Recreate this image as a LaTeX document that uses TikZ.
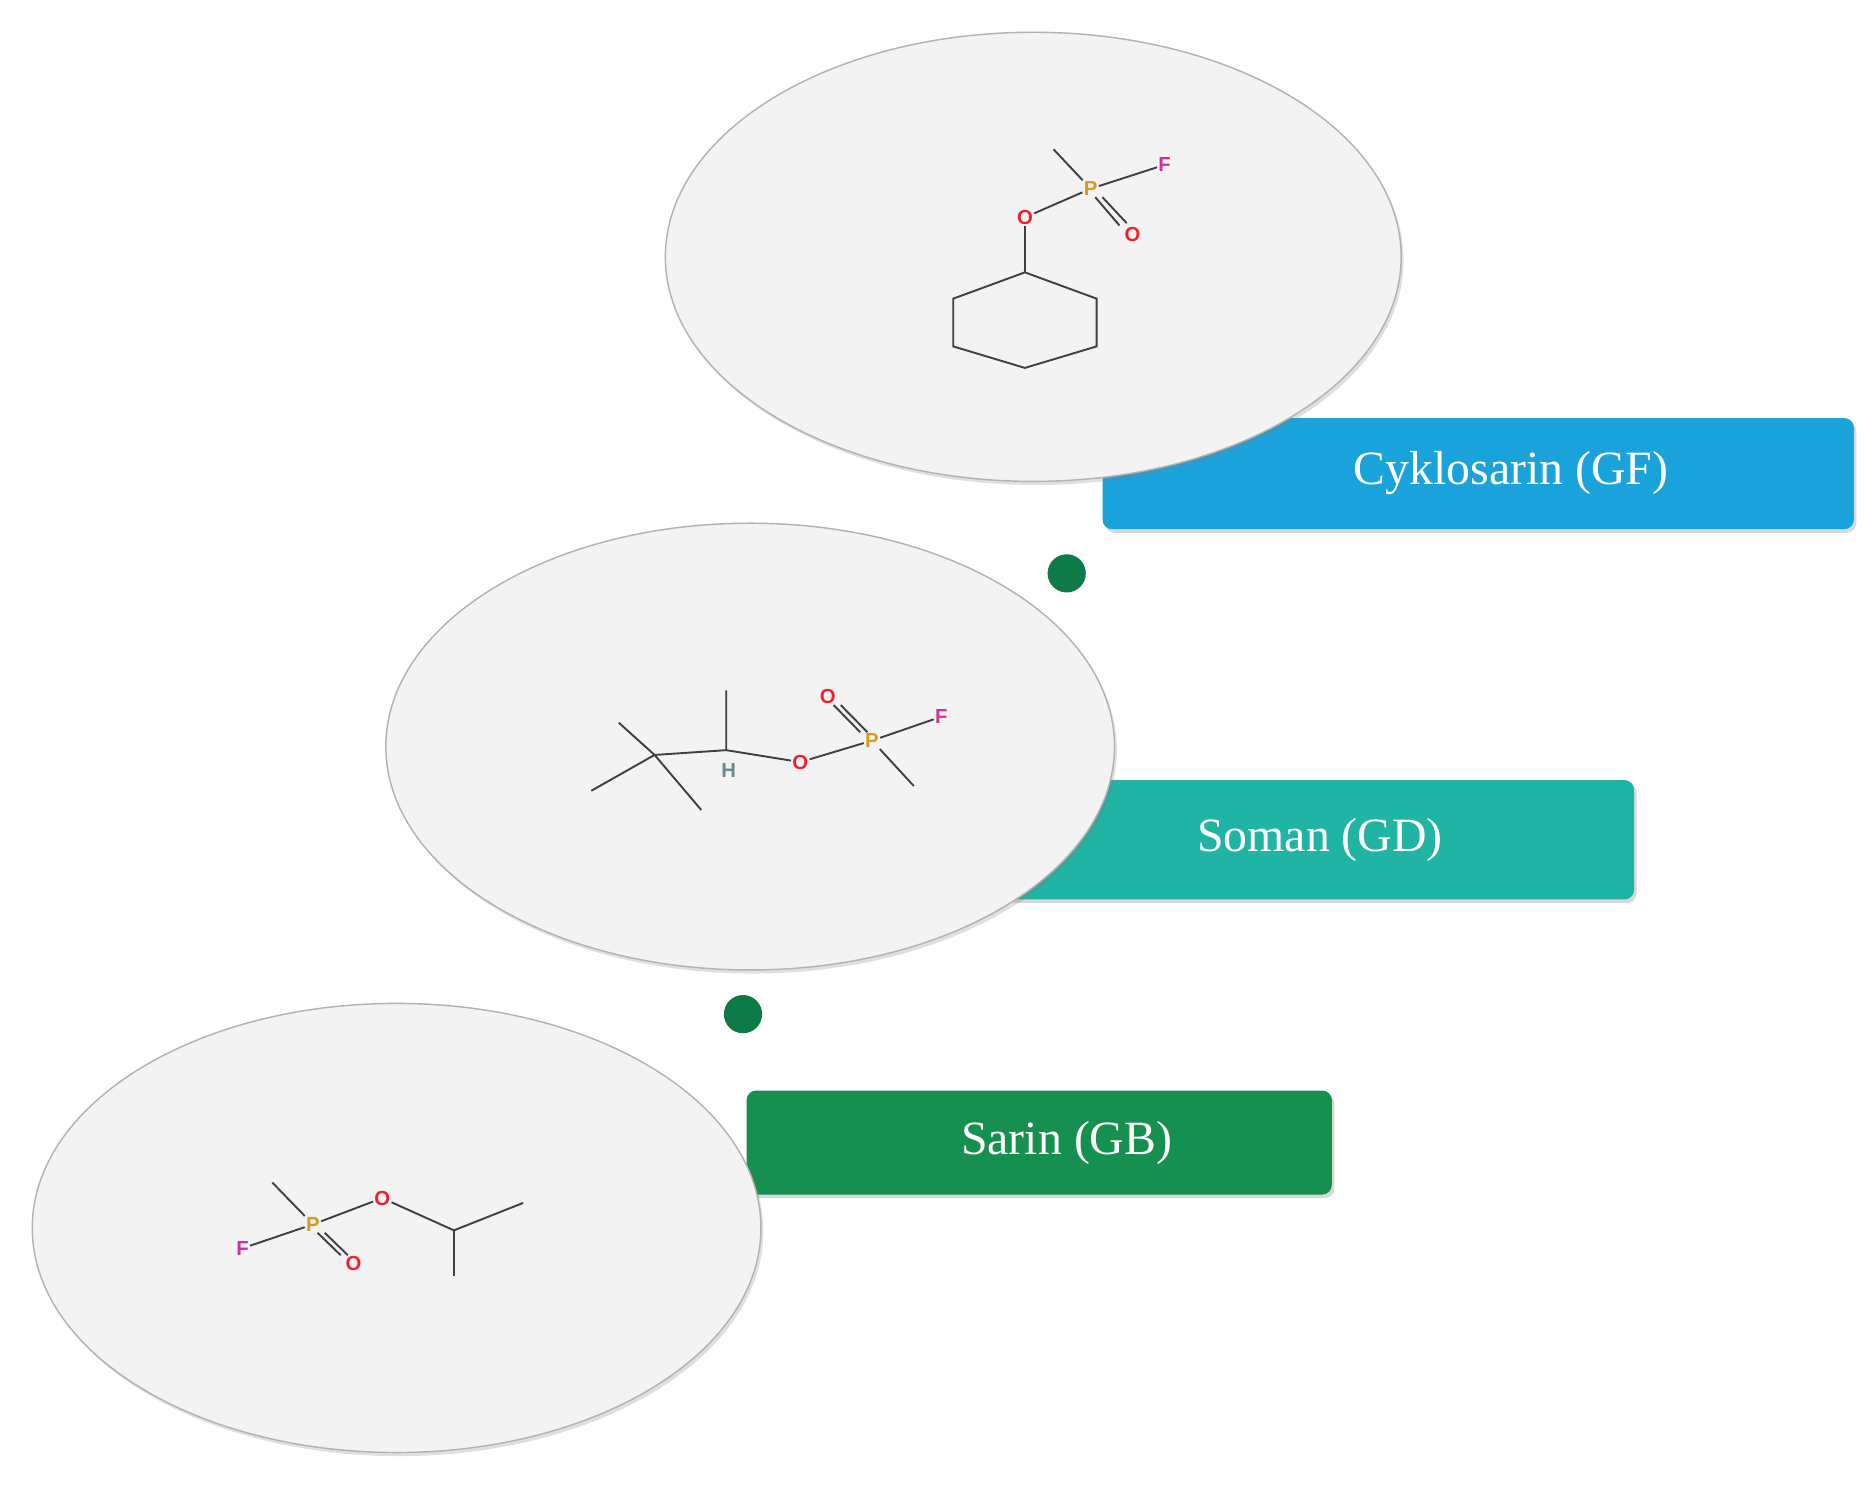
\documentclass[tikz,border=0pt]{standalone}
\usepackage{fontspec}
\setmainfont{Liberation Serif}
\newfontfamily\atomfont{Liberation Sans}
\usetikzlibrary{shadows}
\definecolor{gfblue}{HTML}{1AA3DA}
\definecolor{gdteal}{HTML}{1FB4A4}
\definecolor{gbgreen}{HTML}{16904F}
\definecolor{dotgreen}{HTML}{0E7A48}
\definecolor{pcol}{HTML}{D89A1E}
\definecolor{ocol}{HTML}{F0202A}
\definecolor{fcol}{HTML}{D0309A}
\definecolor{hcol}{HTML}{6A8A90}
\begin{document}
\begin{tikzpicture}[x=1pt,y=-1pt,
  disc/.style={draw=gray!60,line width=1.2pt,fill={rgb,255:red,243;green,243;blue,243},drop shadow={opacity=0.25,shadow xshift=2pt,shadow yshift=-3pt}},
  lab/.style={rounded corners=8pt,drop shadow={opacity=0.3,shadow xshift=2pt,shadow yshift=-3pt}},
  labtext/.style={text=white,font=\fontsize{40}{44}\selectfont},
  dotc/.style={circle,fill=dotgreen,minimum size=32pt,inner sep=0pt},
  atom/.style={font=\atomfont\fontsize{17}{18}\selectfont\bfseries,inner sep=1pt},
  P/.style={atom,text=pcol}, O/.style={atom,text=ocol}, F/.style={atom,text=fcol}, H/.style={atom,text=hcol},
  bond/.style={line width=1.6pt,black!75},
  pb/.style={line width=1.6pt,pcol}]
\useasboundingbox (0,0) rectangle (1568,1247);
\fill[white] (0,0) rectangle (1568,1247);
% label boxes
\fill[lab,gfblue] (923,350) rectangle (1552,443);
\node[labtext] (tgf) at (1265,396) {Cyklosarin (GF)};
\fill[lab,gdteal] (840,653) rectangle (1368,753);
\node[labtext] (tgd) at (1105,703) {Soman (GD)};
\fill[lab,gbgreen] (625,913) rectangle (1115,1000);
\node[labtext] (tgb) at (893,957) {Sarin (GB)};
% dots
\node[dotc] (d1) at (893,480) {};
\node[dotc] (d2) at (622,849) {};
% discs
\draw[disc] (865,215) ellipse [x radius=308,y radius=188];
\draw[disc] (628,625) ellipse [x radius=305,y radius=187];
\draw[disc] (332,1028) ellipse [x radius=305,y radius=188];
% Cyklosarin
\node[P] (p1) at (913,158) {P};
\node[F] (f1) at (975,138) {F};
\node[O] (o1a) at (858,182) {O};
\node[O] (o1b) at (948,196) {O};
\coordinate (m1) at (882,125);
\draw[bond] (m1) -- (p1);
\draw[bond] (p1) -- (f1);
\draw[bond] (p1) -- (o1a);
\draw[bond] ([xshift=-3pt]p1.south east) -- ([xshift=-3pt]o1b.north west);
\draw[bond] ([xshift=3pt]p1.south east) -- ([xshift=3pt,yshift=2pt]o1b.north west);
\coordinate (r1) at (858,228); \coordinate (r2) at (918,250);
\coordinate (r3) at (918,290); \coordinate (r4) at (858,308);
\coordinate (r5) at (798,290); \coordinate (r6) at (798,250);
\draw[bond] (o1a) -- (r1);
\draw[bond] (r1) -- (r2) -- (r3) -- (r4) -- (r5) -- (r6) -- cycle;
% Soman
\node[P] (p2) at (730,620) {P};
\node[O] (o2b) at (693,583) {O};
\node[F] (f2) at (788,600) {F};
\node[O] (o2a) at (670,638) {O};
\node[H] (h2) at (610,645) {H};
\coordinate (c2) at (608,628);
\coordinate (m2a) at (608,578);
\coordinate (m2b) at (765,658);
\coordinate (cq) at (548,632);
\coordinate (t1) at (518,605);
\coordinate (t2) at (495,662);
\coordinate (t3) at (587,678);
\draw[bond] (p2) -- (f2);
\draw[bond] (p2) -- (m2b);
\draw[bond] (p2) -- (o2a);
\draw[bond] ([xshift=-3pt]o2b.south east) -- ([xshift=-3pt]p2.north west);
\draw[bond] ([xshift=3pt]o2b.south east) -- ([xshift=3pt]p2.north west);
\draw[bond] (o2a) -- (c2);
\draw[bond] (m2a) -- (c2) -- (cq);
\draw[bond] (t1) -- (cq) -- (t3);
\draw[bond] (t2) -- (cq);
% Sarin
\node[P] (p3) at (262,1025) {P};
\node[F] (f3) at (203,1045) {F};
\node[O] (o3b) at (296,1058) {O};
\node[O] (o3a) at (320,1003) {O};
\coordinate (m3) at (228,990);
\coordinate (c3) at (380,1030);
\coordinate (c3a) at (438,1007);
\coordinate (c3b) at (380,1068);
\draw[bond] (m3) -- (p3);
\draw[bond] (p3) -- (f3);
\draw[bond] (p3) -- (o3a);
\draw[bond] ([xshift=-3pt]p3.south east) -- ([xshift=-3pt]o3b.north west);
\draw[bond] ([xshift=3pt]p3.south east) -- ([xshift=3pt]o3b.north west);
\draw[bond] (o3a) -- (c3) -- (c3a);
\draw[bond] (c3) -- (c3b);
\end{tikzpicture}
\end{document}
